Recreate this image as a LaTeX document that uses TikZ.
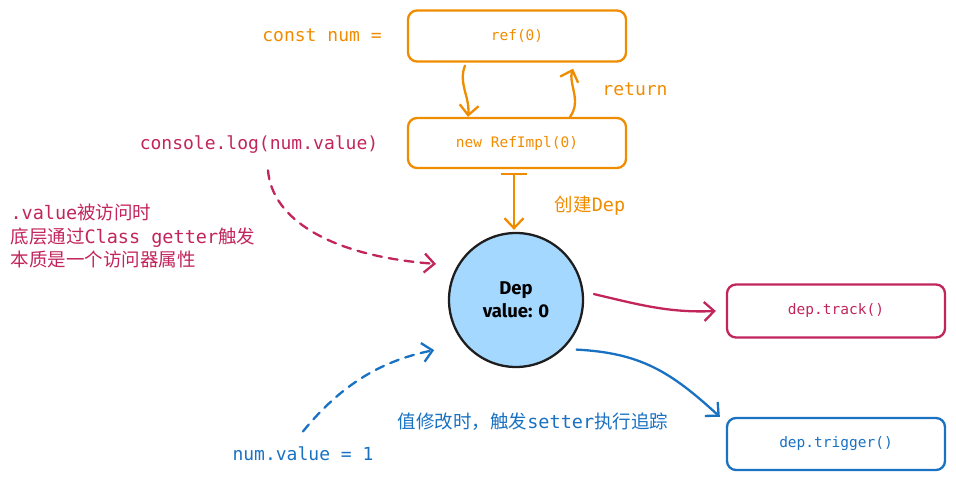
\documentclass[tikz,border=0pt]{standalone}
\usepackage{fontspec}
\setmonofont{DejaVu Sans Mono}
\setsansfont{Fira Sans}
\newfontfamily\cjk{Noto Sans CJK SC}
\usetikzlibrary{arrows.meta}
\definecolor{refOrange}{HTML}{F08C00}
\definecolor{getRed}{HTML}{C2255C}
\definecolor{setBlue}{HTML}{1971C2}
\definecolor{depFill}{HTML}{A5D8FF}
\definecolor{inkDark}{HTML}{1E1E1E}

\begin{document}
\begin{tikzpicture}[x=1pt,y=1pt,line cap=round,
        >={Straight Barb[length=10pt,width=19pt]},
        codebox/.style={draw,rounded corners=9pt,line width=2.3pt,
            minimum width=218pt,minimum height=51pt,
            font=\ttfamily\fontsize{14.5}{17}\selectfont},
        codetext/.style={font=\ttfamily\fontsize{18}{22}\selectfont},
        note/.style={font=\ttfamily\fontsize{18.5}{23.5}\selectfont,align=left},
        flow/.style={->,line width=2.3pt},
        hint/.style={->,line width=2.3pt,dash pattern=on 9pt off 7pt}]
        \useasboundingbox (0,0) rectangle (956,481);

        % the ref boxes
        \node[codebox,refOrange] (ref) at (517,445) {ref(0)};
        \node[codebox,refOrange,minimum height=50pt] (impl) at (517,338) {new RefImpl(0)};
        \node[codetext,refOrange] (const) at (322,446) {const num =};
        \node[codetext,refOrange] (ret) at (635,392) {return};
        \node[refOrange,font=\fontsize{18.5}{22}\selectfont] (create) at (590,275)
            {{\cjk 创建}\ttfamily Dep};

        % the dep circle
        \node[circle,draw=inkDark,fill=depFill,line width=2.3pt,minimum size=134pt,
              align=center,font=\sffamily\bfseries\fontsize{18.5}{23}\selectfont]
              (dep) at (516,181) {Dep\\value: 0};

        % the effect boxes
        \node[codebox,getRed,minimum height=53pt] (track) at (836,170) {dep.track()};
        \node[codebox,setBlue,minimum height=52pt] (trigger) at (836,37) {dep.trigger()};

        % the texts round the circle
        \node[codetext,getRed] (log) at (259,336) {console.log(num.value)};
        \node[note,getRed,anchor=west] (getnote) at (7,245)
            {.value{\cjk 被访问时}\\{\cjk 底层通过}Class getter{\cjk 触发}\\{\cjk 本质是一个访问器属性}};
        \node[codetext,setBlue] (num) at (303,27) {num.value = 1};
        \node[note,setBlue] (setnote) at (533,59) {{\cjk 值修改时，触发}setter{\cjk 执行追踪}};

        % ref and impl
        \draw[flow,refOrange] ([xshift=-52pt,yshift=-3pt]ref.south)
            .. controls (458,398) and (470,384) .. ([xshift=-49pt]impl.north);
        \draw[flow,refOrange] ([xshift=53pt]impl.north)
            .. controls (582,380) and (568,398) .. ([xshift=56pt,yshift=-6pt]ref.south);
        \draw[{Bar[width=26pt]}->,line width=2.3pt,refOrange] ([xshift=-3pt,yshift=-4pt]impl.south)
            -- ([xshift=-2pt,yshift=2pt]dep.north);

        % getter and setter
        \draw[hint,getRed] ([shift={(9,-13)}]log.south)
            .. controls (272,262) and (330,225) .. ([xshift=-21pt,yshift=2pt]dep.150);
        \draw[hint,setBlue] ([yshift=12pt]num.north)
            .. controls (340,95) and (380,120) .. ([xshift=-26pt,yshift=-11pt]dep.215);
        \draw[flow,getRed] ([xshift=10pt]dep.5)
            .. controls (640,176) and (670,168) .. ([xshift=-10pt]track.west);
        \draw[flow,setBlue] ([xshift=10pt,yshift=-4pt]dep.-42)
            .. controls (640,128) and (670,110) .. ([xshift=-6pt]trigger.north west);
    \end{tikzpicture}
\end{document}
